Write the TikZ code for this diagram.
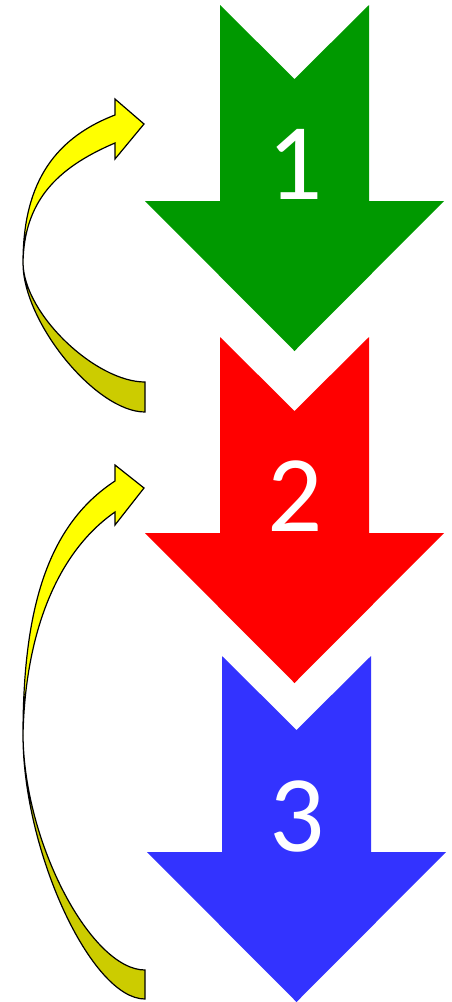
\documentclass[tikz,border=0pt]{standalone}
\usepackage{fontspec}
\newfontfamily\numfont{Carlito}
\usepackage{xcolor}
\definecolor{arrgreen}{RGB}{0,153,0}
\definecolor{arrred}{RGB}{255,0,0}
\definecolor{arrblue}{RGB}{51,51,255}
\definecolor{curvelight}{RGB}{255,255,0}
\definecolor{curvedark}{RGB}{204,204,0}
\newcommand\bignum{\numfont\fontsize{109}{110}\selectfont}
\tikzset{num/.style={text=white, inner sep=0pt, anchor=base}}

\begin{document}
\begin{tikzpicture}[x=1pt, y=1pt, yscale=-1,
  curveback/.style={draw=black, fill=curvedark, line width=1.2pt, line join=miter},
  curvefront/.style={draw=black, fill=curvelight, line width=1.2pt, line join=miter},
]
  \useasboundingbox (0,0) rectangle (452,1002);

  % ---- down arrows ----
  \coordinate (top1) at (294.5,5);
  \coordinate (top2) at (294.5,337);
  \coordinate (top3) at (296.5,656);

  \fill[arrgreen] (top1) ++(-74.5,0) -- ++(74.5,74) -- ++(74.5,-74)
    -- ++(0,196) -- ++(75,0) -- ++(-149.5,150) -- ++(-149.5,-150) -- ++(75,0) -- cycle;
  \fill[arrred] (top2) ++(-74.5,0) -- ++(74.5,74) -- ++(74.5,-74)
    -- ++(0,196) -- ++(75,0) -- ++(-149.5,150) -- ++(-149.5,-150) -- ++(75,0) -- cycle;
  \fill[arrblue] (top3) ++(-74.5,0) -- ++(74.5,74) -- ++(74.5,-74)
    -- ++(0,196) -- ++(75,0) -- ++(-149.5,150) -- ++(-149.5,-150) -- ++(75,0) -- cycle;

  \node[num] (n1) at (295,199) {\bignum 1};
  \node[num] (n2) at (295,531) {\bignum 2};
  \node[num] (n3) at (297,851) {\bignum 3};

  % ---- loop back 2 -> 1 ----
  \draw[curveback] (145,412) .. controls (96.2,412) and (23,322.6) .. (23,263)
    .. controls (24,314.8) and (96.2,382) .. (145,382) -- cycle;
  \draw[curvefront] (23,263) .. controls (23,189) and (49.6,140.1) .. (115,115)
    -- (115,99) -- (144,124) -- (115,159) -- (115,143)
    .. controls (55.2,168.4) and (24,202.5) .. (23,263) -- cycle;

  % ---- loop back 3 -> 2 ----
  \draw[curveback] (145,999) .. controls (91.3,999) and (23,851.2) .. (23,735)
    .. controls (24,844) and (91.8,970) .. (145,970) -- cycle;
  \draw[curvefront] (23,735) .. controls (23,608) and (47.8,525) .. (115,481)
    -- (115,465) -- (144,488) -- (115,525) -- (115,512)
    .. controls (53.5,554.8) and (25,639.8) .. (23,735) -- cycle;
\end{tikzpicture}
\end{document}
